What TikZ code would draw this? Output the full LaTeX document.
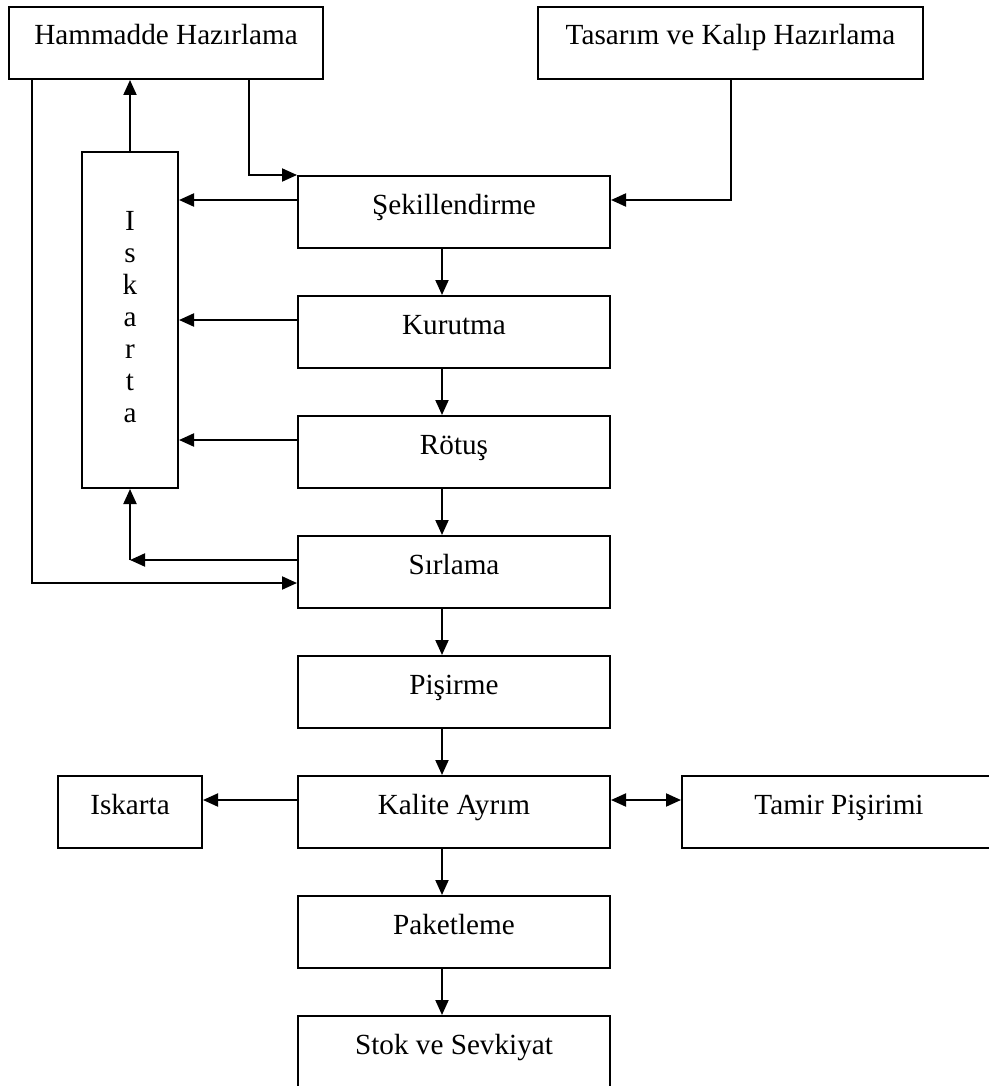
\documentclass[tikz,border=0pt]{standalone}
\usepackage{fontspec}
\setmainfont{Liberation Serif}
\usetikzlibrary{arrows.meta,calc}

\tikzset{
  stepbox/.style={draw, minimum height=72pt, text height=20pt, text depth=16pt, inner sep=0pt},
}

\begin{document}
\begin{tikzpicture}[x=1pt, y=-1pt, line width=2pt, >={Triangle[length=15pt,width=13pt]}, font=\fontsize{29.2}{32}\selectfont]
\useasboundingbox (0,0) rectangle (988,1086);
% top row
\node[stepbox, minimum width=314pt] (ham) at (166,43) {Hammadde Hazırlama};
\node[stepbox, minimum width=385pt] (tas) at (730.5,43) {Tasarım ve Kalıp Hazırlama};
% main column
\node[stepbox, minimum width=312pt] (sek) at (454,212) {Şekillendirme};
\node[stepbox, minimum width=312pt] (kur) at (454,332) {Kurutma};
\node[stepbox, minimum width=312pt] (rot) at (454,452) {Rötuş};
\node[stepbox, minimum width=312pt] (sir) at (454,572) {Sırlama};
\node[stepbox, minimum width=312pt] (pis) at (454,692) {Pişirme};
\node[stepbox, minimum width=312pt] (kal) at (454,812) {Kalite Ayrım};
\node[stepbox, minimum width=312pt] (pak) at (454,932) {Paketleme};
\node[stepbox, minimum width=312pt] (stok) at (454,1052) {Stok ve Sevkiyat};
% side boxes
\node[draw, minimum width=96pt, minimum height=336pt, inner sep=0pt] (isk1) at (130,320)
  {\raisebox{10pt}{\begin{tabular}{@{}c@{}}I\\s\\k\\a\\r\\t\\a\end{tabular}}};
\node[stepbox, minimum width=144pt] (isk2) at (130,812) {Iskarta};
\node[stepbox, minimum width=314pt] (tam) at (839,812) {Tamir Pişirimi};

\draw[->] ([xshift=83pt]ham.south) |- (sek.north west);
\draw[->] (tas.south) |- ([yshift=12pt]sek.east);
\draw[->] ([yshift=12pt]sek.west) -- ([yshift=12pt]sek.west -| isk1.east);
\draw[->] ([yshift=12pt]kur.west) -- ([yshift=12pt]kur.west -| isk1.east);
\draw[->] ([yshift=12pt]rot.west) -- ([yshift=12pt]rot.west -| isk1.east);
\draw[->] (isk1.north) -- (isk1.north |- ham.south);
\coordinate (c1) at ([yshift=12pt]sir.west -| isk1.south);
\draw[->] ([yshift=12pt]sir.west) -- (c1);
\draw[->] (c1) -- (isk1.south);
\draw[->] ([xshift=24pt]ham.south west) |- ([yshift=-11pt]sir.west);

\draw[->] ([xshift=-12pt]sek.south) -- ([xshift=-12pt]kur.north);
\draw[->] ([xshift=-12pt]kur.south) -- ([xshift=-12pt]rot.north);
\draw[->] ([xshift=-12pt]rot.south) -- ([xshift=-12pt]sir.north);
\draw[->] ([xshift=-12pt]sir.south) -- ([xshift=-12pt]pis.north);
\draw[->] ([xshift=-12pt]pis.south) -- ([xshift=-12pt]kal.north);
\draw[->] ([xshift=-12pt]kal.south) -- ([xshift=-12pt]pak.north);
\draw[->] ([xshift=-12pt]pak.south) -- ([xshift=-12pt]stok.north);

\draw[->] ([yshift=12pt]kal.west) -- ([yshift=12pt]isk2.east);
\draw[<->] ([yshift=12pt]kal.east) -- ([yshift=12pt]tam.west);
\end{tikzpicture}
\end{document}
